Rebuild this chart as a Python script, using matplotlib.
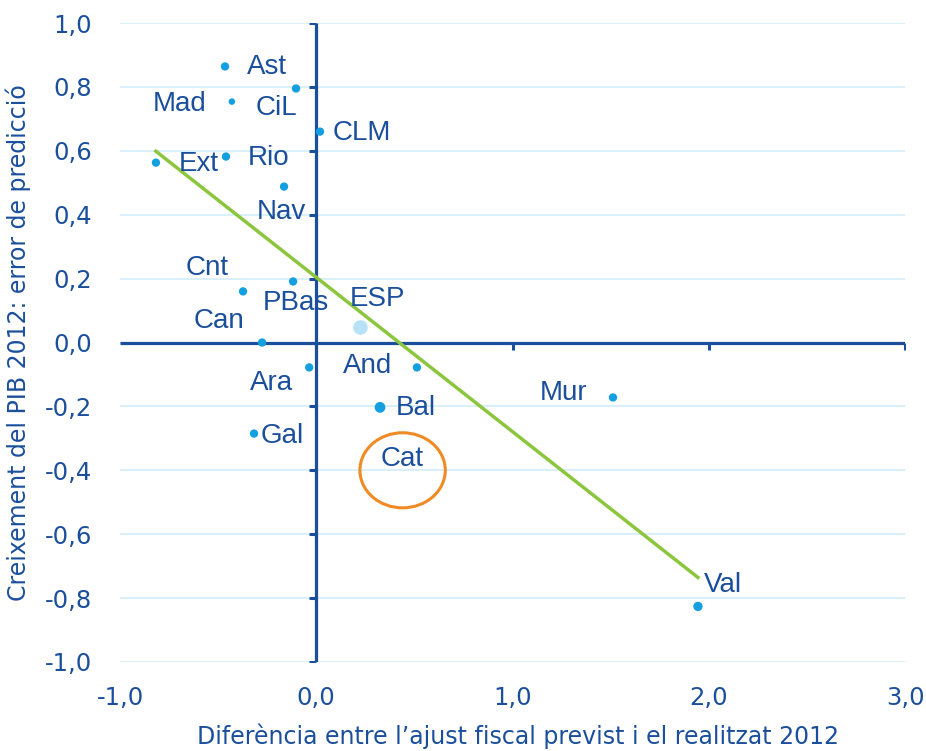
import numpy as np
import matplotlib.pyplot as plt
from matplotlib.patches import Ellipse

# Data
regions = ['Ast', 'CiL', 'Mad', 'CLM', 'Rio', 'Ext', 'Nav', 'Cnt', 'PBas',
           'Can', 'Ara', 'And', 'Bal', 'Mur', 'Gal', 'Val']
ajust_diff = [-0.465, -0.103, -0.43, 0.019, -0.46, -0.817, -0.164, -0.373, -0.118,
              -0.276, -0.036, 0.513, 0.325, 1.512, -0.317, 1.945]
pib_error = [0.864, 0.795, 0.754, 0.66, 0.582, 0.563, 0.488, 0.16, 0.191,
             0.0, -0.078, -0.078, -0.203, -0.172, -0.285, -0.826]
esp_x, esp_y = 0.223, 0.05
cat_x, cat_y = 0.44, -0.40
trend_slope = -0.483
trend_intercept = 0.204

x_ticks = [-1.0, 0.0, 1.0, 2.0, 3.0]
y_ticks = [-1.0, -0.8, -0.6, -0.4, -0.2, 0.0, 0.2, 0.4, 0.6, 0.8, 1.0]

DARK = '#1b4f9c'
DOT = '#139fe0'
GRID = '#d2ecf9'
LABEL_FONT = ['Liberation Sans', 'DejaVu Sans']

# label offsets in pixels (dx right, dy down) and alignment
offsets = {
    'Ast': (22, 1, 'left'), 'CiL': (-40, 20, 'left'), 'Mad': (-25, 2, 'right'),
    'CLM': (13, 1, 'left'), 'Rio': (22, 1, 'left'), 'Ext': (23, 1, 'left'),
    'Nav': (-27, 25, 'left'), 'Cnt': (-57, -23, 'left'), 'PBas': (-30, 22, 'left'),
    'Can': (-68, -21, 'left'), 'Ara': (-59, 16, 'left'), 'And': (-74, -1, 'left'),
    'Bal': (16, 1, 'left'), 'Mur': (-73, -4, 'left'), 'Gal': (7, 2, 'left'),
    'Val': (6, -21, 'left'),
}
dot_size = {'Mad': 22, 'Bal': 60, 'Val': 45}

fig = plt.figure(figsize=(9.26, 7.51), dpi=100)
ax = fig.add_axes([120 / 926, 1 - 662 / 751, 785 / 926, 639 / 751])
ax.set_xlim(-1, 3)
ax.set_ylim(-1, 1)

for s in ax.spines.values():
    s.set_visible(False)

# grid lines
for yv in y_ticks:
    ax.axhline(yv, color=GRID, lw=1.2, zorder=0)

# axes through origin
ax.plot([0, 0], [-1, 1], color=DARK, lw=2.3, zorder=1, solid_capstyle='butt')
ax.plot([-1, 3], [0, 0], color=DARK, lw=2.3, zorder=1, solid_capstyle='butt')
ax.plot(np.zeros(len(y_ticks)), y_ticks, linestyle='none', marker=0,
        markersize=5, mew=2.2, color=DARK, zorder=1)
ax.plot([t for t in x_ticks if t != -1.0], np.zeros(len(x_ticks) - 1),
        linestyle='none', marker=3, markersize=5, mew=2.2, color=DARK, zorder=1)

ax.set_xticks(x_ticks)
ax.set_yticks(y_ticks)
ax.set_xticklabels([f'{v:.1f}'.replace('.', ',') for v in x_ticks])
ax.set_yticklabels([f'{v:.1f}'.replace('.', ',') for v in y_ticks])
ax.tick_params(length=0, labelsize=17.5, colors=DARK)
ax.tick_params(axis='x', pad=17)
ax.tick_params(axis='y', pad=20)

# trend line
tx = np.array([min(ajust_diff), max(ajust_diff)])
ax.plot(tx, trend_intercept + trend_slope * tx, color='#8cc63f', lw=2.5, zorder=2)

# points
sizes = [dot_size.get(r, 36) for r in regions]
ax.scatter(ajust_diff, pib_error, s=sizes, color=DOT, zorder=3, linewidths=0)
ax.scatter([esp_x], [esp_y], s=110, color='#b7e2f6', zorder=3, linewidths=0)

for r, xv, yv in zip(regions, ajust_diff, pib_error):
    dx, dy, ha = offsets[r]
    ax.annotate(r, (xv, yv), xytext=(dx * 0.72, -dy * 0.72), textcoords='offset points',
                ha=ha, va='center', fontsize=20, color=DARK, family=LABEL_FONT, zorder=4)
ax.annotate('ESP', (esp_x, esp_y), xytext=(-10 * 0.72, 28 * 0.72), textcoords='offset points',
            ha='left', va='center', fontsize=20, color=DARK, family=LABEL_FONT, zorder=4)

# Cat highlighted (no dot)
ax.text(cat_x - 0.11, cat_y + 0.035, 'Cat', ha='left', va='center', fontsize=20, color=DARK,
        family=LABEL_FONT, zorder=4)
ax.add_patch(Ellipse((cat_x, cat_y), 0.435, 0.235, fill=False, edgecolor='#f08a24', lw=2.2, zorder=4))

narrow = ['Liberation Sans Narrow', 'DejaVu Sans']
ax.set_ylabel('Creixement del PIB 2012: error de predicció', fontsize=17, color=DARK,
              family=narrow, labelpad=10)
fig.text(518 / 926, 1 - 749 / 751, 'Diferència entre l\u2019ajust fiscal previst i el realitzat 2012',
         ha='center', va='bottom', fontsize=17, color=DARK, family=narrow)

fig.savefig('out.png', dpi=100)
